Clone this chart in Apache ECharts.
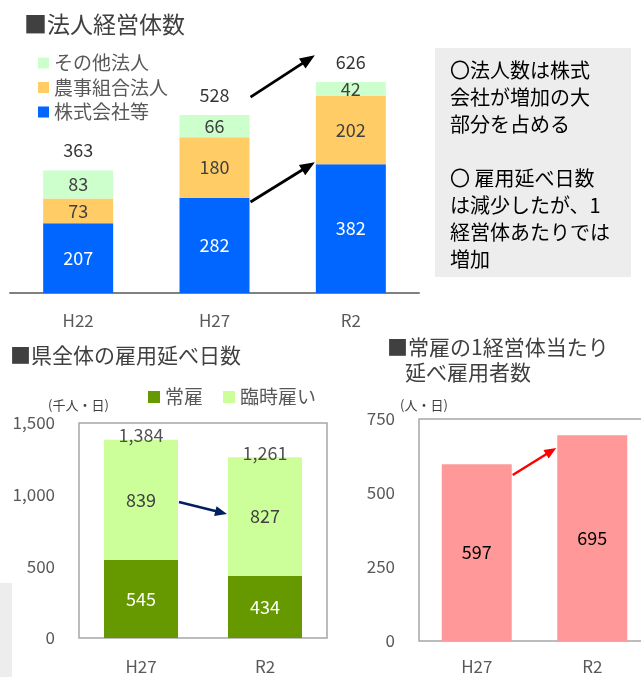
<!DOCTYPE html>
<html><head><meta charset="utf-8">
<script src="https://cdn.jsdelivr.net/npm/echarts@6/dist/echarts.min.js"></script>
<style>html,body{margin:0;padding:0;background:#fff}#c{width:641px;height:677px}</style>
</head><body><div id="c"></div>
<script>
const FONT = '"Noto Sans CJK JP","Noto Sans",sans-serif';
// Chart 1: 法人経営体数
const years1 = ['H22', 'H27', 'R2'];
const kabushiki = [207, 282, 382];
const noji = [73, 180, 202];
const sonota = [83, 66, 42];
const total1 = [363, 528, 626];
// Chart 2: 県全体の雇用延べ日数
const years2 = ['H27', 'R2'];
const joko = [545, 434];
const rinji = [839, 827];
const total2 = [1384, 1261];
const ticks2 = [0, 500, 1000, 1500];
// Chart 3: 常雇の1経営体当たり延べ雇用者数
const years3 = ['H27', 'R2'];
const perEntity = [597, 695];
const ticks3 = [0, 250, 500, 750];

const fmt = v => Number(v).toLocaleString('en-US');
const chart = echarts.init(document.getElementById('c'), null, {renderer: 'canvas'});

const baseLabel = {show: true, position: 'inside', fontSize: 18, fontFamily: FONT};

const option = {
  animation: false,
  backgroundColor: '#fff',
  textStyle: {fontFamily: FONT},
  legend: [
    {data: ['その他法人', '農事組合法人', '株式会社等'], orient: 'vertical', left: 33, top: 48,
     itemWidth: 11, itemHeight: 11, itemGap: 4.5, icon: 'rect',
     textStyle: {fontSize: 19, lineHeight: 20, color: '#595959', fontFamily: FONT}},
    {data: ['常雇', '臨時雇い'], orient: 'horizontal', left: 143, top: 382,
     itemWidth: 12, itemHeight: 12, itemGap: 20, icon: 'rect',
     textStyle: {fontSize: 19, lineHeight: 20, color: '#595959', fontFamily: FONT}}
  ],
  grid: [
    {left: 10, top: 57, width: 409, height: 236, outerBoundsMode: 'none', containLabel: false},
    {left: 79, top: 423, width: 248, height: 215, show: true, borderColor: '#A6A6A6', borderWidth: 1.5, outerBoundsMode: 'none', containLabel: false},
    {left: 419, top: 419, width: 231, height: 222, show: true, borderColor: '#A6A6A6', borderWidth: 1.5, outerBoundsMode: 'none', containLabel: false}
  ],
  xAxis: [
    {type: 'category', gridIndex: 0, data: years1,
     axisLine: {lineStyle: {color: '#808080', width: 2}}, axisTick: {show: false},
     axisLabel: {color: '#595959', fontSize: 17, margin: 19, fontFamily: FONT}},
    {type: 'category', gridIndex: 1, data: years2,
     axisLine: {show: false}, axisTick: {show: false},
     axisLabel: {color: '#595959', fontSize: 17, margin: 20, fontFamily: FONT}},
    {type: 'category', gridIndex: 2, data: years3,
     axisLine: {show: false}, axisTick: {show: false},
     axisLabel: {color: '#595959', fontSize: 17, margin: 17, fontFamily: FONT}}
  ],
  yAxis: [
    {type: 'value', gridIndex: 0, min: 0, max: 700, show: false},
    {type: 'value', gridIndex: 1, min: ticks2[0], max: ticks2[ticks2.length - 1], interval: ticks2[1] - ticks2[0],
     axisLine: {show: false}, axisTick: {show: false}, splitLine: {show: false},
     axisLabel: {color: '#595959', fontSize: 17, margin: 24, formatter: fmt, fontFamily: FONT}},
    {type: 'value', gridIndex: 2, min: ticks3[0], max: ticks3[ticks3.length - 1], interval: ticks3[1] - ticks3[0],
     axisLine: {show: false}, axisTick: {show: false}, splitLine: {show: false},
     axisLabel: {color: '#595959', fontSize: 17, margin: 24, fontFamily: FONT}}
  ],
  series: [
    {name: '株式会社等', type: 'bar', stack: 'a', xAxisIndex: 0, yAxisIndex: 0, barWidth: 70,
     data: kabushiki, itemStyle: {color: '#0066FF'}, label: {...baseLabel, color: '#fff'}},
    {name: '農事組合法人', type: 'bar', stack: 'a', xAxisIndex: 0, yAxisIndex: 0, barWidth: 70,
     data: noji, itemStyle: {color: '#FFCC66'}, label: {...baseLabel, color: '#404040'}},
    {name: 'その他法人', type: 'bar', stack: 'a', xAxisIndex: 0, yAxisIndex: 0, barWidth: 70,
     data: sonota, itemStyle: {color: '#CCFFCC'}, label: {...baseLabel, color: '#404040'}},
    {type: 'scatter', xAxisIndex: 0, yAxisIndex: 0, data: total1, symbolSize: 0, silent: true,
     label: {...baseLabel, color: '#000', offset: [0, -20]}},

    {name: '常雇', type: 'bar', stack: 'b', xAxisIndex: 1, yAxisIndex: 1, barWidth: 74,
     data: joko, itemStyle: {color: '#669900'}, label: {...baseLabel, color: '#fff'}},
    {name: '臨時雇い', type: 'bar', stack: 'b', xAxisIndex: 1, yAxisIndex: 1, barWidth: 74,
     data: rinji, itemStyle: {color: '#CCFF99'}, label: {...baseLabel, color: '#404040'}},
    {type: 'scatter', xAxisIndex: 1, yAxisIndex: 1, data: total2, symbolSize: 0, silent: true,
     label: {...baseLabel, color: '#262626', offset: [0, -4], formatter: p => fmt(p.value)}},

    {name: '1経営体当たり', type: 'bar', xAxisIndex: 2, yAxisIndex: 2, barWidth: 70,
     data: perEntity, itemStyle: {color: '#FF9999'}, label: {...baseLabel, color: '#000'}}
  ]
};
chart.setOption(option);

// annotation arrows anchored to categories (edge side) and values
const arrows = [
  {grid: 0, bw: 70, from: ['H27', 1, 581], to: ['R2', -1, 705], color: '#000', w: 2.8, hl: 15, hw: 12},
  {grid: 0, bw: 70, from: ['H27', 1, 270], to: ['R2', -1, 388], color: '#000', w: 2.8, hl: 15, hw: 12},
  {grid: 1, bw: 74, from: ['H27', 1, 949], to: ['R2', -1, 865], color: '#002060', w: 2.5, hl: 12, hw: 10},
  {grid: 2, bw: 70, from: ['H27', 1, 561], to: ['R2', -1, 652], color: '#FF0000', w: 2.5, hl: 12, hw: 10}
];
function pt(a, p) {
  const c = chart.convertToPixel({xAxisIndex: a.grid, yAxisIndex: a.grid}, [p[0], p[2]]);
  return [c[0] + p[1] * (a.bw / 2 + 1), c[1]];
}
const arrowEls = [];
arrows.forEach(a => {
  const s = pt(a, a.from), e = pt(a, a.to);
  const dx = e[0] - s[0], dy = e[1] - s[1], len = Math.hypot(dx, dy);
  const ux = dx / len, uy = dy / len, nx = -uy, ny = ux;
  const bx = e[0] - ux * a.hl, by = e[1] - uy * a.hl;
  arrowEls.push({type: 'line', shape: {x1: s[0], y1: s[1], x2: bx + ux * 2, y2: by + uy * 2},
    style: {stroke: a.color, lineWidth: a.w}, silent: true, z: 50});
  arrowEls.push({type: 'polygon', shape: {points: [[e[0], e[1]], [bx + nx * a.hw / 2, by + ny * a.hw / 2], [bx - nx * a.hw / 2, by - ny * a.hw / 2]]},
    style: {fill: a.color}, silent: true, z: 50});
});

const boxText = ['〇法人数は株式', '会社が増加の大', '部分を占める', '', '〇 雇用延べ日数', 'は減少したが、1', '経営体あたりでは', '増加'].join('\n');
const txt = (text, x, y, size, fill) => ({type: 'text', x, y, silent: true, z: 40,
  style: {text, fontSize: size, fontFamily: FONT, fill: fill || '#404040', verticalAlign: 'middle', align: 'left'}});

const statics = [
  txt('■法人経営体数', 24, 24, 23),
  {type: 'rect', shape: {x: 435, y: 48, width: 196, height: 229}, style: {fill: '#EDEDED'}, silent: true, z: 1},
  {type: 'text', x: 450, y: 57, silent: true, z: 40,
   style: {text: boxText, fontSize: 20, lineHeight: 27, fontFamily: FONT, fill: '#000', verticalAlign: 'top'}},
  txt('■県全体の雇用延べ日数', 10, 355, 21),
  txt('(千人・日)', 48, 405, 13, '#404040'),
  txt('■常雇の1経営体当たり', 387, 347, 21),
  txt('延べ雇用者数', 405, 372, 21),
  txt('(人・日)', 400, 405, 13, '#404040'),
  {type: 'rect', shape: {x: 0, y: 583, width: 12, height: 94}, style: {fill: '#EDEDED'}, silent: true, z: 1}
];
chart.setOption({graphic: {elements: statics.concat(arrowEls)}});
</script>
</body></html>
